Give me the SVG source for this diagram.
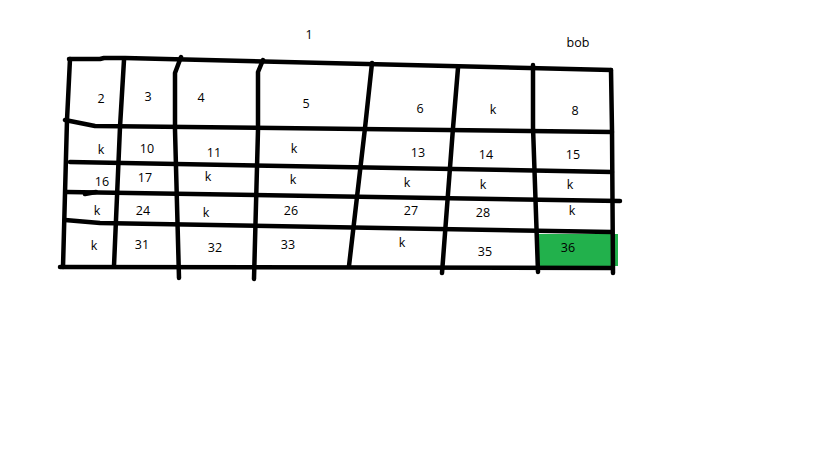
<svg xmlns="http://www.w3.org/2000/svg" width="819" height="460" viewBox="0 0 819 460">
<style>
.ln{fill:none;stroke:#000;stroke-width:4.5;stroke-linecap:round;stroke-linejoin:round}
text{font-family:"Open Sans","Liberation Sans",sans-serif;font-size:12.5px;fill:#000;text-anchor:middle}
</style>
<rect width="819" height="460" fill="#fff"/>
<rect id="cell36bg" x="538" y="234" width="80" height="32" fill="#22B14C"/>
<g id="grid">
<path class="ln" d="M69,59 L100,59 L104,58 L125,58 L611,70"/>
<path class="ln" d="M65,120 L95,126 L612,132"/>
<path class="ln" d="M70,162 L612,172"/>
<path class="ln" d="M67,192 L620,201"/>
<path class="ln" d="M85,194 L96,192"/>
<path class="ln" d="M65,220 L100,223 L612,232"/>
<path class="ln" d="M60,267 L612,268"/>
<path class="ln" d="M70,59 L67,120 L63,267"/>
<path class="ln" d="M124,60 L120,127 L114,266"/>
<path class="ln" d="M181,57 L175,73 L175,130 L179,278"/>
<path class="ln" d="M263,60 L258,72 L258,130 L254,279"/>
<path class="ln" d="M372,63 L365,128 L349,266"/>
<path class="ln" d="M458,68 L453,128 L442,273"/>
<path class="ln" d="M533,65 L533,127 L538,272"/>
<path class="ln" d="M611,70 L612,130 L613,273"/>
</g>
<g id="labels">
<text x="309" y="39">1</text>
<text x="578" y="47">bob</text>
<text x="101" y="103">2</text>
<text x="148" y="101">3</text>
<text x="201" y="102">4</text>
<text x="306" y="108">5</text>
<text x="420" y="113">6</text>
<text x="493" y="114">k</text>
<text x="575" y="115">8</text>
<text x="101" y="154">k</text>
<text x="147" y="153">10</text>
<text x="214" y="157">11</text>
<text x="294" y="153">k</text>
<text x="418" y="157">13</text>
<text x="486" y="159">14</text>
<text x="573" y="159">15</text>
<text x="102" y="186">16</text>
<text x="145" y="182">17</text>
<text x="208" y="181">k</text>
<text x="293" y="184">k</text>
<text x="407" y="187">k</text>
<text x="483" y="189">k</text>
<text x="570" y="189">k</text>
<text x="97" y="215">k</text>
<text x="143" y="215">24</text>
<text x="206" y="217">k</text>
<text x="291" y="215">26</text>
<text x="411" y="215">27</text>
<text x="483" y="217">28</text>
<text x="572" y="215">k</text>
<text x="94" y="250">k</text>
<text x="142" y="249">31</text>
<text x="215" y="252">32</text>
<text x="288" y="249">33</text>
<text x="402" y="247">k</text>
<text x="485" y="256">35</text>
<text x="568" y="252">36</text>
</g>
</svg>
